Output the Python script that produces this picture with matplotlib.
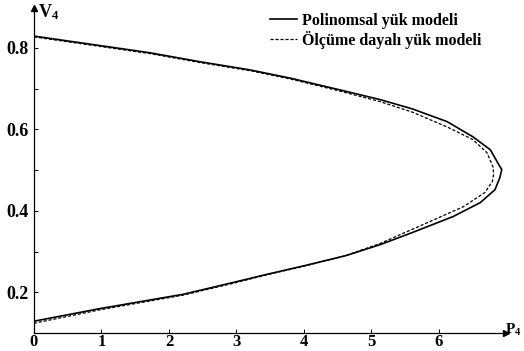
import matplotlib
matplotlib.use("Agg")
import matplotlib.pyplot as plt
from matplotlib.lines import Line2D

# ── Data ─────────────────────────────────────────────────────────────────
# Polinomsal yük modeli (solid)
v_poly = [0.829, 0.788, 0.766, 0.746, 0.726, 0.697, 0.673, 0.650, 0.619, 0.582,
          0.550, 0.518, 0.501, 0.481, 0.452, 0.420, 0.386, 0.347, 0.317, 0.290,
          0.265, 0.244, 0.224, 0.195, 0.160, 0.129]
p_poly = [0.00, 1.72, 2.46, 3.20, 3.79, 4.53, 5.13, 5.61, 6.12, 6.50,
          6.76, 6.87, 6.93, 6.90, 6.83, 6.61, 6.21, 5.61, 5.13, 4.62,
          4.00, 3.45, 2.95, 2.21, 0.98, 0.00]
# Ölçüme dayalı yük modeli (dashed)
v_meas = [0.827, 0.786, 0.764, 0.744, 0.724, 0.694, 0.668, 0.642, 0.606, 0.575,
          0.543, 0.508, 0.490, 0.472, 0.445, 0.410, 0.374, 0.320, 0.290,
          0.264, 0.243, 0.222, 0.193, 0.157, 0.124]
p_meas = [0.00, 1.72, 2.46, 3.20, 3.79, 4.53, 5.13, 5.61, 6.12, 6.50,
          6.71, 6.80, 6.81, 6.79, 6.68, 6.36, 5.87, 5.13, 4.62,
          4.00, 3.45, 2.95, 2.21, 0.98, 0.00]

x_ticks = [0, 1, 2, 3, 4, 5, 6]
y_ticks = [0.1, 0.2, 0.3, 0.4, 0.5, 0.6, 0.7, 0.8]
y_labels = ["", "0.2", "", "0.4", "", "0.6", "", "0.8"]
series_labels = ["Polinomsal yük modeli", "Ölçüme dayalı yük modeli"]

plt.rcParams.update({
    "font.family": "Liberation Serif",
    "font.weight": "bold",
    "mathtext.fontset": "custom",
    "mathtext.rm": "Liberation Serif:bold",
    "mathtext.it": "Liberation Serif:bold",
})

DASH = (0, (2.5, 1.5))

fig = plt.figure(figsize=(5.24, 3.51), dpi=100)
ax = fig.add_axes([34 / 524, 18 / 351, 472.5 / 524, 325 / 351])

ax.plot(p_poly, v_poly, color="black", lw=1.2, solid_joinstyle="round")
ax.plot(p_meas, v_meas, color="black", lw=0.9, linestyle=DASH)

ax.set_xlim(0, 7.0)
ax.set_ylim(0.1, 0.898)

for s in ["top", "right"]:
    ax.spines[s].set_visible(False)
for s in ["left", "bottom"]:
    ax.spines[s].set_linewidth(0.9)

# arrow heads on the axes
ax.plot(1, 0, ">k", ms=4, transform=ax.transAxes, clip_on=False)
ax.plot(0, 1, "^k", ms=4, transform=ax.transAxes, clip_on=False)

ax.set_xticks(x_ticks)
ax.set_xticklabels([str(t) for t in x_ticks], fontsize=12, fontweight="bold")
ax.set_yticks(y_ticks)
ax.set_yticklabels(y_labels, fontsize=13, fontweight="bold")
ax.tick_params(axis="both", direction="in", length=3, width=0.7)
ax.tick_params(axis="x", pad=1)
ax.tick_params(axis="y", pad=4)

fig.text(38 / 524, 1 - 2 / 351, r"$\mathrm{V}_4$", fontsize=13, va="top", ha="left")
fig.text(505 / 524, 1 - 322 / 351, r"$\mathrm{P}_4$", fontsize=11, va="top", ha="left")

handles = [Line2D([], [], color="black", lw=1.2),
           Line2D([], [], color="black", lw=0.9, linestyle=DASH)]
ax.legend(handles, series_labels,
          loc="upper left", bbox_to_anchor=(268 / 524, 1 - 11 / 351),
          bbox_transform=fig.transFigure, frameon=False,
          prop={"family": "Liberation Serif", "weight": "bold", "size": 11.5},
          handlelength=1.7, handletextpad=0.35, labelspacing=0.12,
          borderaxespad=0, borderpad=0.1)

fig.savefig("out.png", dpi=100)
